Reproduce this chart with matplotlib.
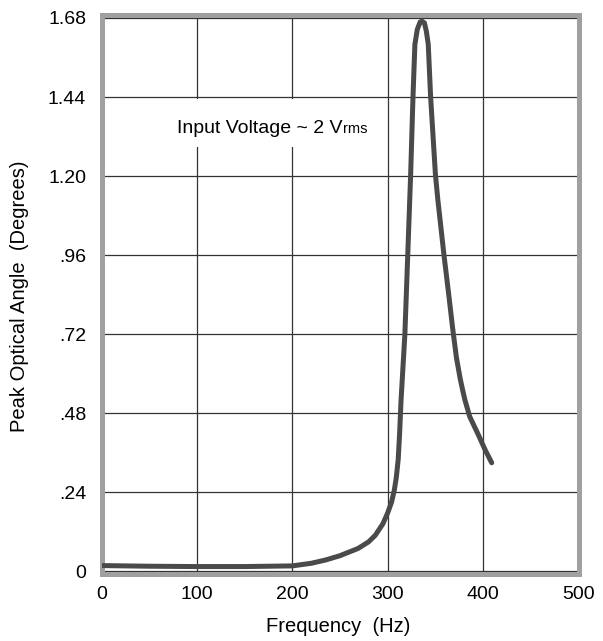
import matplotlib
matplotlib.use("Agg")
import matplotlib.pyplot as plt
from matplotlib.patches import Rectangle

plt.rcParams['font.family'] = ['Liberation Sans', 'DejaVu Sans']

# response curve
freq = [0, 50, 100, 150, 200, 220, 235, 250, 269, 280, 287, 295, 300, 304, 307,
        309, 311, 312.5, 314, 318, 321, 324, 326.5, 328.5, 331, 334, 336, 338.5,
        340.5, 342.5, 345, 350, 352.5, 359, 364, 368, 372, 376, 379, 381, 384,
        386, 395, 402, 409]
angle = [0.018, 0.016, 0.015, 0.015, 0.017, 0.025, 0.035, 0.048, 0.07, 0.09, 0.11,
         0.145, 0.178, 0.21, 0.248, 0.285, 0.34, 0.42, 0.52, 0.72, 0.96, 1.2, 1.44,
         1.6, 1.645, 1.668, 1.67, 1.665, 1.64, 1.6, 1.44, 1.206, 1.13, 0.96, 0.84,
         0.74, 0.65, 0.585, 0.545, 0.52, 0.49, 0.47, 0.415, 0.37, 0.33]

xticks = [0, 100, 200, 300, 400, 500]
yticks = [0, 0.24, 0.48, 0.72, 0.96, 1.20, 1.44, 1.68]
ylabels = ["0", ".24", ".48", ".72", ".96", "1.20", "1.44", "1.68"]

W, H = 603, 641
fig = plt.figure(figsize=(W / 100, H / 100), dpi=100)
ax = fig.add_axes([101.5 / W, 1 - 574 / H, 477 / W, 559.5 / H])

ax.set_xlim(0, 500)
ax.set_ylim(-0.0076, 1.6906)
ax.set_xticks(xticks)
ax.set_yticks(yticks)
ax.set_yticklabels(ylabels)
ax.tick_params(length=0, labelsize=14, colors='black')
ax.tick_params(axis='y', pad=11)
ax.tick_params(axis='x', pad=8.5)

ax.set_axisbelow(True)
ax.grid(True, color='#333333', linewidth=0.9)
for s in ax.spines.values():
    s.set_color('#a0a0a0')
    s.set_linewidth(3.6)

ax.plot(freq, angle, color='#4a4a4a', linewidth=3.6, solid_capstyle='round',
        solid_joinstyle='round', zorder=3)

# white box behind the annotation
ax.add_patch(Rectangle((66, 1.287), 231, 0.148, facecolor='white',
                       edgecolor='none', zorder=1.5))
t = ax.text(79.2, 1.332, "Input Voltage ~ 2 V", fontsize=14, va='baseline',
            ha='left', zorder=4)
fig.canvas.draw()
bb = t.get_window_extent(renderer=fig.canvas.get_renderer())
xr = ax.transData.inverted().transform((bb.x1, bb.y0))[0]
ax.text(xr + 0.5, 1.332, "rms", fontsize=10.5, va='baseline', ha='left', zorder=4)

fig.text(20 / W, 1 - 296 / H, "Peak Optical Angle  (Degrees)", rotation=90,
         ha='center', va='center', fontsize=14.5)
fig.text(338 / W, 1 - 627 / H, "Frequency  (Hz)", ha='center', va='center',
         fontsize=14.5)

fig.savefig("out.png", dpi=100)
